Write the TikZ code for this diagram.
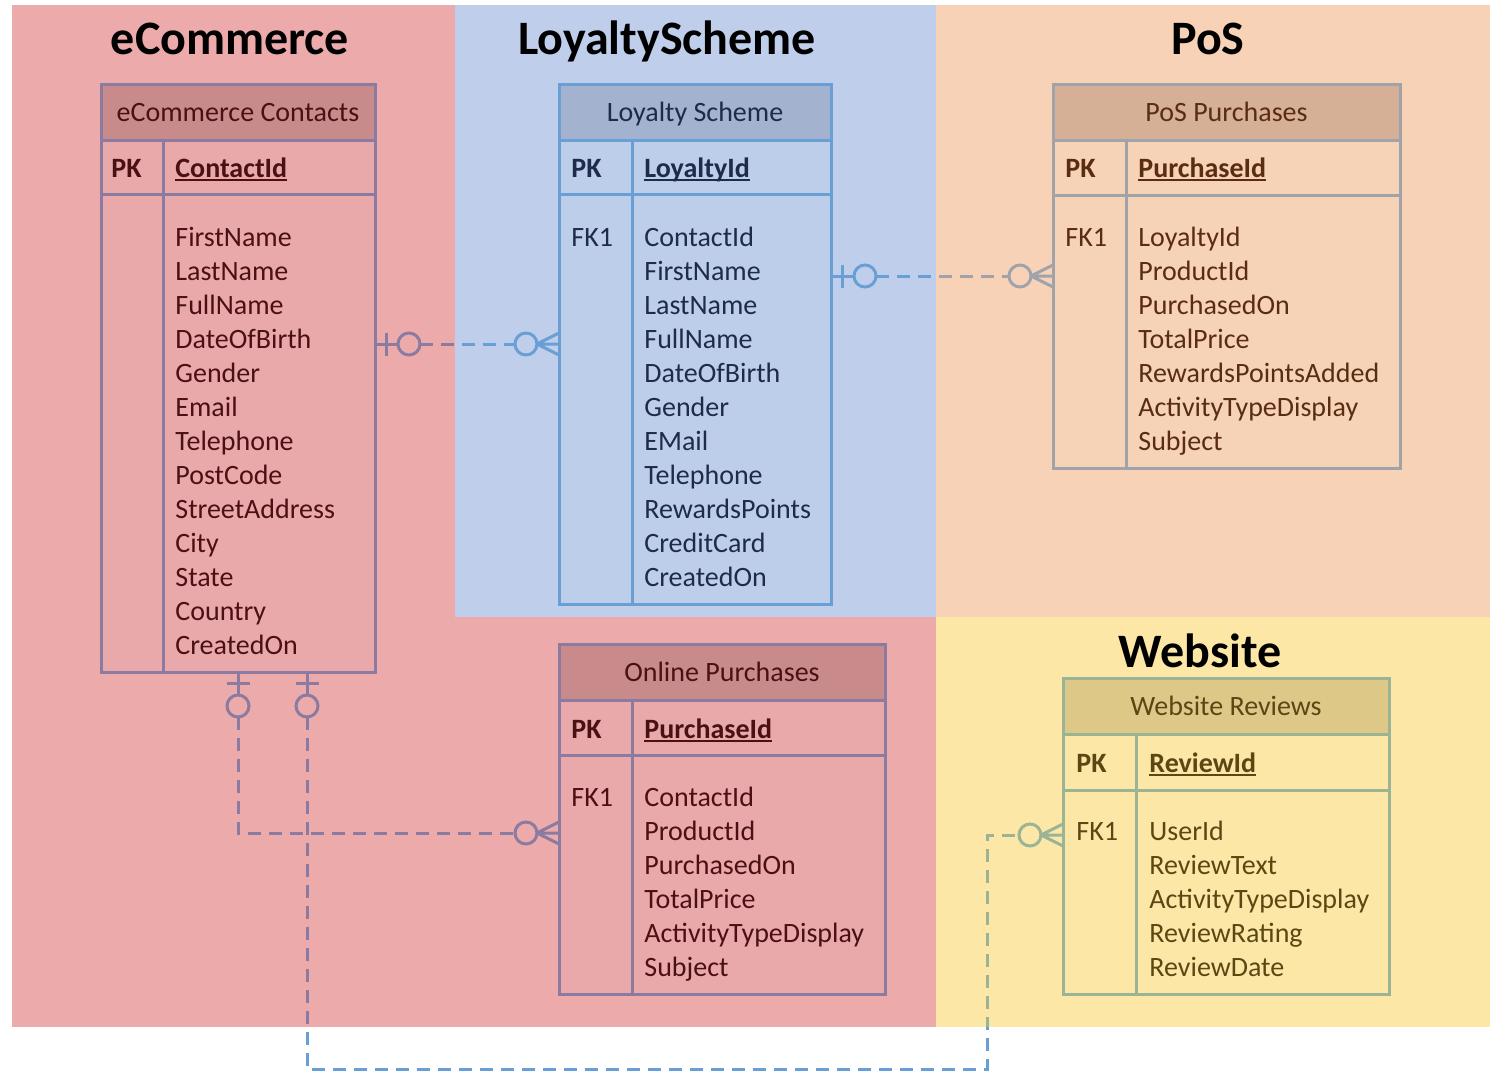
\documentclass[tikz,border=0pt]{standalone}
\usepackage{fontspec}
\setmainfont{Carlito}

% area backgrounds
\definecolor{ecBg}{HTML}{ECAAAB}
\definecolor{lsBg}{HTML}{BFCFEB}
\definecolor{psBg}{HTML}{F7D2B7}
\definecolor{wsBg}{HTML}{FDE7A7}
% eCommerce tables
\definecolor{ecLine}{HTML}{8C7BA0}
\definecolor{ecHead}{HTML}{C98A8C}
\definecolor{ecFill}{HTML}{E9A9AB}
\definecolor{ecText}{HTML}{4A1013}
% loyalty scheme table
\definecolor{lsLine}{HTML}{6A9FD6}
\definecolor{lsHead}{HTML}{A3B2CE}
\definecolor{lsFill}{HTML}{BDCEEA}
\definecolor{lsText}{HTML}{1E2B4A}
% point of sale table
\definecolor{psLine}{HTML}{A0A3AA}
\definecolor{psHead}{HTML}{D5AF96}
\definecolor{psFill}{HTML}{F6D2B6}
\definecolor{psText}{HTML}{5B2D10}
% website table
\definecolor{wsLine}{HTML}{9CB496}
\definecolor{wsHead}{HTML}{DDC888}
\definecolor{wsFill}{HTML}{FDE7A6}
\definecolor{wsText}{HTML}{5A4714}

% underlined primary key
\newcommand\keyfield[1]{\setbox0\hbox{#1}\rlap{\rule[-2.2pt]{\wd0}{1pt}}\box0}

% areas used to colour the relationship lines
\newcommand\ecArea{(0,0) -- (455,0) -- (455,617) -- (936,617) -- (936,1027) -- (0,1027) -- cycle}
\newcommand\lsArea{(455,0) rectangle (936,617)}
\newcommand\psArea{(936,0) rectangle (1494,617)}
\newcommand\wsArea{(936,617) rectangle (1494,1027)}
\newcommand\openArea{(0,1027) rectangle (1494,1071)}

\tikzset{
  box/.style={draw, line width=1.5pt, inner sep=0pt, outer sep=0pt, anchor=north west},
  headbox/.style={box, font=\fontsize{14}{17}\selectfont, text height=10.5pt, text depth=1.5pt},
  txt/.style={anchor=base west, inner sep=0pt, font=\fontsize{14}{17}\selectfont},
  keytxt/.style={txt, font=\fontsize{14}{17}\selectfont\bfseries},
  areatitle/.style={anchor=base, inner sep=0pt, font=\fontsize{24}{29}\selectfont\bfseries},
  ecom/.style={draw=ecLine, text=ecText},
  loyal/.style={draw=lsLine, text=lsText},
  pointofsale/.style={draw=psLine, text=psText},
  web/.style={draw=wsLine, text=wsText},
  divider/.style={line width=1.5pt},
  link/.style={line width=1.5pt, dash pattern=on 6.5pt off 4pt},
  zeroone/.pic={
    \draw[line width=1.5pt] (0,0) -- (23,0);
    \draw[line width=1.5pt] (11,-11.5) -- (11,11.5);
    \draw[line width=1.5pt] (34,0) circle[radius=5.5pt];
  },
  zeromany/.pic={
    \draw[line width=1.5pt] (0,-11) -- (22,0) (0,0) -- (22,0) (0,11) -- (22,0);
    \draw[line width=1.5pt] (33,0) circle[radius=5.5pt];
  },
}

\begin{document}
\begin{tikzpicture}[x=0.5pt, y=-0.5pt]
\useasboundingbox (0,0) rectangle (1494,1071);

% ---- areas ----
\fill[ecBg] (12,617) rectangle (936,1027);
\fill[ecBg] (12,5) rectangle (455,617);
\fill[lsBg] (455,5) rectangle (936,617);
\fill[psBg] (936,5) rectangle (1490,617);
\fill[wsBg] (936,617) rectangle (1490,1027);

\node[areatitle] (tEcom) at (230,54) {eCommerce};
\node[areatitle] (tLoyal) at (667,54) {LoyaltyScheme};
\node[areatitle] (tPos) at (1208,54) {PoS};
\node[areatitle] (tWeb) at (1200,667) {Website};

% ---- eCommerce Contacts ----
\node[headbox, ecom, fill=ecHead, minimum width=137pt, minimum height=28pt] (contactsHead) at (101,84) {eCommerce Contacts};
\node[box, ecom, fill=ecFill, minimum width=137pt, minimum height=27pt] (contactsKey) at (101,140) {};
\node[box, ecom, fill=ecFill, minimum width=137pt, minimum height=239pt] (contactsBody) at (101,194) {};
\draw[divider, ecLine] ([xshift=31pt]contactsKey.north west) -- ([xshift=31pt]contactsBody.south west);
\node[keytxt, text=ecText] (contactsPK) at (111,177) {PK};
\node[keytxt, text=ecText] (contactsId) at (175,177) {\keyfield{ContactId}};
\foreach \f [count=\i] in {FirstName,LastName,FullName,DateOfBirth,Gender,Email,Telephone,PostCode,StreetAddress,City,State,Country,CreatedOn}
  \node[txt, text=ecText] (contactsF\i) at (175,{246+34*(\i-1)}) {\f};

% ---- Loyalty Scheme ----
\node[headbox, loyal, fill=lsHead, minimum width=136pt, minimum height=28pt] (loyalHead) at (559,84) {Loyalty Scheme};
\node[box, loyal, fill=lsFill, minimum width=136pt, minimum height=27pt] (loyalKey) at (559,140) {};
\node[box, loyal, fill=lsFill, minimum width=136pt, minimum height=205pt] (loyalBody) at (559,194) {};
\draw[divider, lsLine] ([xshift=36.5pt]loyalKey.north west) -- ([xshift=36.5pt]loyalBody.south west);
\node[keytxt, text=lsText] (loyalPK) at (571,177) {PK};
\node[keytxt, text=lsText] (loyalId) at (644,177) {\keyfield{LoyaltyId}};
\node[txt, text=lsText] (loyalFK) at (571,246) {FK1};
\foreach \f [count=\i] in {ContactId,FirstName,LastName,FullName,DateOfBirth,Gender,EMail,Telephone,RewardsPoints,CreditCard,CreatedOn}
  \node[txt, text=lsText] (loyalF\i) at (644,{246+34*(\i-1)}) {\f};

% ---- PoS Purchases ----
\node[headbox, pointofsale, fill=psHead, minimum width=173.5pt, minimum height=28pt] (posHead) at (1053,84) {PoS Purchases};
\node[box, pointofsale, fill=psFill, minimum width=173.5pt, minimum height=27.5pt] (posKey) at (1053,140) {};
\node[box, pointofsale, fill=psFill, minimum width=173.5pt, minimum height=136.5pt] (posBody) at (1053,195) {};
\draw[divider, psLine] ([xshift=36.5pt]posKey.north west) -- ([xshift=36.5pt]posBody.south west);
\node[keytxt, text=psText] (posPK) at (1065,177) {PK};
\node[keytxt, text=psText] (posId) at (1138,177) {\keyfield{PurchaseId}};
\node[txt, text=psText] (posFK) at (1065,246) {FK1};
\foreach \f [count=\i] in {LoyaltyId,ProductId,PurchasedOn,TotalPrice,RewardsPointsAdded,ActivityTypeDisplay,Subject}
  \node[txt, text=psText] (posF\i) at (1138,{246+34*(\i-1)}) {\f};

% ---- Online Purchases ----
\node[headbox, ecom, fill=ecHead, minimum width=163pt, minimum height=28pt] (onlineHead) at (559,644) {Online Purchases};
\node[box, ecom, fill=ecFill, minimum width=163pt, minimum height=27.5pt] (onlineKey) at (559,700) {};
\node[box, ecom, fill=ecFill, minimum width=163pt, minimum height=119.5pt] (onlineBody) at (559,755) {};
\draw[divider, ecLine] ([xshift=36.5pt]onlineKey.north west) -- ([xshift=36.5pt]onlineBody.south west);
\node[keytxt, text=ecText] (onlinePK) at (571,738) {PK};
\node[keytxt, text=ecText] (onlineId) at (644,738) {\keyfield{PurchaseId}};
\node[txt, text=ecText] (onlineFK) at (571,806) {FK1};
\foreach \f [count=\i] in {ContactId,ProductId,PurchasedOn,TotalPrice,ActivityTypeDisplay,Subject}
  \node[txt, text=ecText] (onlineF\i) at (644,{806+34*(\i-1)}) {\f};

% ---- Website Reviews ----
\node[headbox, web, fill=wsHead, minimum width=163pt, minimum height=28pt] (webHead) at (1063,678) {Website Reviews};
\node[box, web, fill=wsFill, minimum width=163pt, minimum height=28pt] (webKey) at (1063,734) {};
\node[box, web, fill=wsFill, minimum width=163pt, minimum height=102pt] (webBody) at (1063,790) {};
\draw[divider, wsLine] ([xshift=36.5pt]webKey.north west) -- ([xshift=36.5pt]webBody.south west);
\node[keytxt, text=wsText] (webPK) at (1076,772) {PK};
\node[keytxt, text=wsText] (webId) at (1149,772) {\keyfield{ReviewId}};
\node[txt, text=wsText] (webFK) at (1076,840) {FK1};
\foreach \f [count=\i] in {UserId,ReviewText,ActivityTypeDisplay,ReviewRating,ReviewDate}
  \node[txt, text=wsText] (webF\i) at (1149,{840+34*(\i-1)}) {\f};

% ---- relationship end points ----
\coordinate (rowA) at (0,344);
\coordinate (rowB) at (0,276);
\coordinate (rowC) at (0,833);
\coordinate (rowD) at (0,835);
\coordinate (colC) at (238,0);
\coordinate (colD) at (307,0);
\coordinate (bottomD) at (0,1069);
\coordinate (turnD) at (987,0);

\coordinate (A0) at (contactsBody.east |- rowA);
\coordinate (A1) at (loyalBody.west |- rowA);
\coordinate (B0) at (loyalBody.east |- rowB);
\coordinate (B1) at (posBody.west |- rowB);
\coordinate (C0) at (contactsBody.south -| colC);
\coordinate (C1) at (onlineBody.west |- rowC);
\coordinate (D0) at (contactsBody.south -| colD);
\coordinate (D1) at (webBody.west |- rowD);

\newcommand\linkA{([xshift=22.5pt]A0) -- ([xshift=-22pt]A1)}
\newcommand\linkB{([xshift=22.5pt]B0) -- ([xshift=-22pt]B1)}
\newcommand\linkC{([yshift=-22.5pt]C0) |- ([xshift=-22pt]C1)}
\newcommand\linkD{([yshift=-22.5pt]D0) -- (D0 |- bottomD) -- (turnD |- bottomD) -- (turnD |- D1) -- ([xshift=-22pt]D1)}

% dashed lines, coloured by the area they cross
\begin{scope}
  \clip \ecArea;
  \draw[link, ecLine] \linkA;
  \draw[link, ecLine] \linkC;
  \draw[link, ecLine] \linkD;
\end{scope}
\begin{scope}
  \clip \lsArea;
  \draw[link, lsLine] \linkA;
  \draw[link, lsLine] \linkB;
\end{scope}
\begin{scope}
  \clip \psArea;
  \draw[link, psLine] \linkB;
\end{scope}
\begin{scope}
  \clip \wsArea;
  \draw[link, wsLine] \linkD;
\end{scope}
\begin{scope}
  \clip \openArea;
  \draw[link, lsLine] \linkD;
\end{scope}

% relationship ends
\pic[ecLine] at (A0) {zeroone};
\pic[lsLine, rotate=180] at (A1) {zeromany};
\pic[lsLine] at (B0) {zeroone};
\pic[psLine, rotate=180] at (B1) {zeromany};
\pic[ecLine, rotate=-90] at (C0) {zeroone};
\pic[ecLine, rotate=180] at (C1) {zeromany};
\pic[ecLine, rotate=-90] at (D0) {zeroone};
\pic[wsLine, rotate=180] at (D1) {zeromany};

\end{tikzpicture}
\end{document}
